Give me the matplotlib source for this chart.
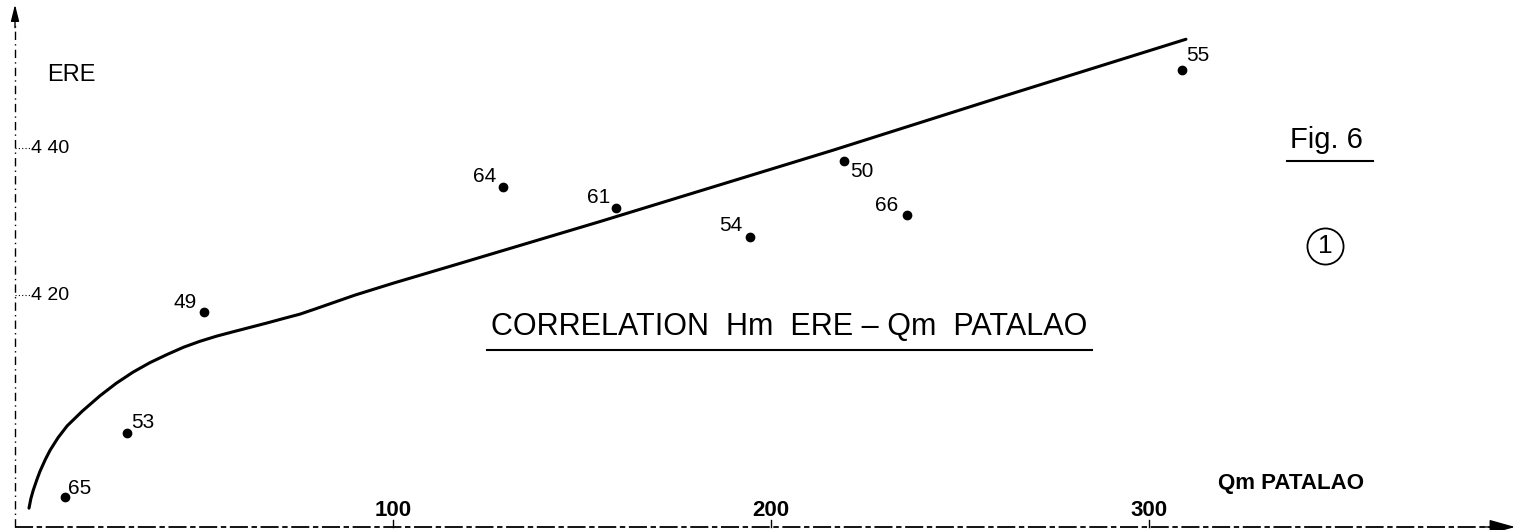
import numpy as np
import matplotlib
matplotlib.use('Agg')
import matplotlib.pyplot as plt

# yearly points (label, Qm PATALAO, Hm ERE)
years = ['65', '53', '49', '64', '61', '54', '50', '66', '55']
qm = [13.2, 29.6, 50.0, 129.1, 159.0, 194.4, 219.3, 236.0, 308.7]
hm = [392.5, 401.2, 417.7, 434.7, 431.8, 427.9, 438.2, 430.9, 450.6]
# label offsets in pixels (dx, dy)
label_off = [(15, 9), (16, 11), (-19, 9), (-18, 10), (-17, 11),
             (-19, 11), (18, -10), (-20, 9), (16, 15)]

# fitted correlation curve (hand drawn in the original)
curve_q = [3.7, 4.2, 4.8, 5.8, 6.6, 8.0, 9.3, 11.4, 13.8, 17.8, 22.5, 26.8,
           31.2, 35.7, 40.2, 44.6, 48.9, 53.3, 57.7, 62.2, 66.7, 71.0, 75.4,
           79.4, 83.3, 90.0, 100.0, 117.7, 154.8, 216.4, 260.6, 309.8]
curve_h = [391.0, 392.3, 393.4, 394.9, 396.0, 397.6, 398.9, 400.6, 402.2,
           404.2, 406.3, 408.0, 409.5, 410.8, 411.9, 412.9, 413.7, 414.4,
           415.0, 415.6, 416.2, 416.8, 417.4, 418.1, 418.8, 420.0, 421.6,
           424.3, 430.0, 439.7, 446.9, 454.8]

xticks = [100, 200, 300]
yticks = [440, 420]
ytick_labels = ['4 40', '4 20']

REG = ['Liberation Sans', 'DejaVu Sans']

fig = plt.figure(figsize=(15.25, 5.3), dpi=100)
ax = fig.add_axes([0, 0, 1, 1])
ax.set_xlim(-3.97, 399.5)
ax.set_ylim(388.03, 460.14)
ax.axis('off')

y0 = 388.44
# axes drawn by hand like the original drawing
ax.plot([0, 392], [y0, y0], color='black', lw=1.3, ls=(0, (10, 2, 3, 2)))
ax.annotate('', xy=(397.6, y0), xytext=(388, y0),
            arrowprops=dict(arrowstyle='-|>,head_length=1.6,head_width=0.45',
                            color='black', lw=1))
ax.plot([0, 0], [y0, 457], color='black', lw=1.0, ls=(0, (6, 3, 1, 3)))
ax.annotate('', xy=(0, 459.9), xytext=(0, 456),
            arrowprops=dict(arrowstyle='-|>,head_length=1.0,head_width=0.25',
                            color='black', lw=1))

for t in xticks:
    ax.plot([t, t], [y0, y0 + 0.9], color='black', lw=1)
    ax.text(t, 390.75, str(t), ha='center', va='center', fontsize=16,
            fontweight='bold', family=REG)
for t, lab in zip(yticks, ytick_labels):
    ax.plot([0, 4], [t, t], color='black', lw=0.8, ls=(0, (1, 2)))
    ax.text(4.2, t, lab, ha='left', va='center', fontsize=14, family=REG)

ax.text(14.8, 449.9, 'ERE', ha='center', va='center', fontsize=17, family=REG)
ax.text(318.3, 394.4, 'Qm PATALAO', ha='left', va='center', fontsize=16,
        fontweight='bold', family=REG)

# curve and points
ax.plot(curve_q, curve_h, color='black', lw=2.2, solid_capstyle='round',
        solid_joinstyle='round')
ax.plot(qm, hm, 'o', color='black', ms=6)
for q, h, lab, (dx, dy) in zip(qm, hm, years, label_off):
    ax.annotate(lab, (q, h), xytext=(dx, dy), textcoords='offset pixels',
                ha='center', va='center', fontsize=15, family=REG)

# title
ax.text(204.9, 415.6, 'CORRELATION  Hm  ERE \u2013 Qm  PATALAO', ha='center',
        va='center', fontsize=22, family=REG)
ax.plot([124.9, 284.9], [412.5, 412.5], color='black', lw=1.5)

# figure number
ax.text(337.3, 441.1, 'Fig. 6', ha='left', va='center', fontsize=21, family=REG)
ax.plot([336.5, 359.3], [438.2, 438.2], color='black', lw=1.5)
ax.plot([346.6], [426.7], 'o', ms=26, mfc='none', mec='black', mew=1.3)
ax.text(346.6, 426.7, '1', ha='center', va='center', fontsize=19, family=REG)

fig.savefig('out.png', dpi=100, facecolor='white')
